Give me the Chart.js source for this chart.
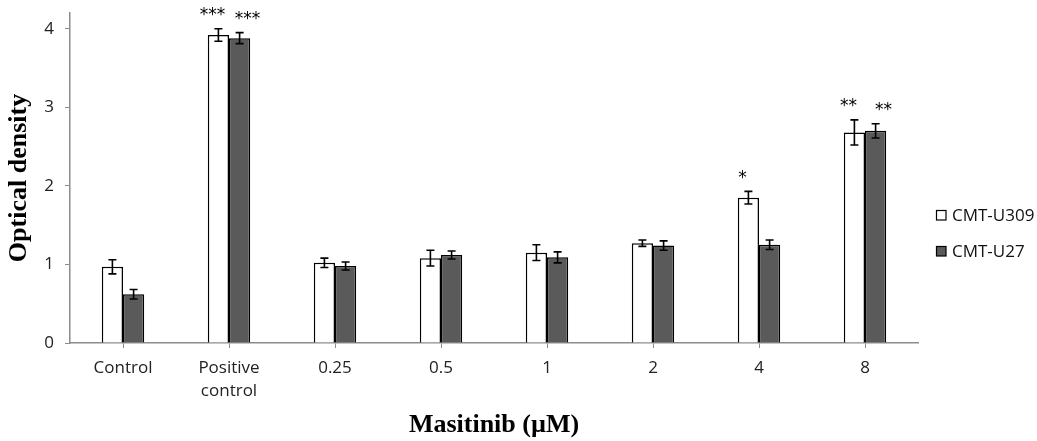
<!DOCTYPE html>
<html>
<head>
<meta charset="utf-8">
<script src="https://cdn.jsdelivr.net/npm/chart.js@4"></script>
<style>
  html, body { margin: 0; padding: 0; background: #fff; }
  #wrap { width: 1037px; height: 441px; }
</style>
</head>
<body>
<div id="wrap"><canvas id="bars"></canvas></div>
<script>
// values
const labels = ['Control', ['Positive', 'control'], '0.25', '0.5', '1', '2', '4', '8'];
const u309 = [0.97, 3.92, 1.02, 1.08, 1.15, 1.27, 1.85, 2.68];
const u309Err = [0.09, 0.08, 0.06, 0.10, 0.10, 0.04, 0.08, 0.16];
const u27 = [0.62, 3.88, 0.98, 1.12, 1.09, 1.24, 1.25, 2.70];
const u27Err = [0.06, 0.07, 0.05, 0.05, 0.07, 0.06, 0.06, 0.09];
const u309Sig = ['', '***', '', '', '', '', '*', '**'];
const u27Sig = ['', '***', '', '', '', '', '', '**'];

const axisGrey = '#8c8c8c';

// error bars + significance stars
const errorBars = {
    id: 'errorBars',
    afterDatasetsDraw(chart) {
        const ctx = chart.ctx;
        const y = chart.scales.y;
        chart.data.datasets.forEach((ds, i) => {
            const meta = chart.getDatasetMeta(i);
            meta.data.forEach((bar, j) => {
                const v = ds.data[j];
                const e = ds.err[j];
                const top = y.getPixelForValue(v + e);
                const bot = y.getPixelForValue(v - e);
                ctx.save();
                ctx.strokeStyle = '#000';
                ctx.lineWidth = 1.6;
                ctx.beginPath();
                ctx.moveTo(bar.x, top); ctx.lineTo(bar.x, bot);
                ctx.moveTo(bar.x - 4, top); ctx.lineTo(bar.x + 4, top);
                ctx.moveTo(bar.x - 4, bot); ctx.lineTo(bar.x + 4, bot);
                ctx.stroke();
                if (ds.sig[j]) {
                    ctx.fillStyle = '#000';
                    ctx.font = '17px "DejaVu Sans"';
                    ctx.textAlign = 'center';
                    ctx.textBaseline = 'middle';
                    ctx.fillText(ds.sig[j], bar.x + ds.sigDx, top - 13);
                }
                ctx.restore();
            });
        });
    },
    afterDraw(chart) {
        // legend on the right
        const ctx = chart.ctx;
        ctx.save();
        ctx.font = '17px "Open Sans"';
        ctx.textBaseline = 'middle';
        chart.data.datasets.forEach((ds, i) => {
            const cy = 215 + i * 36;
            ctx.fillStyle = ds.backgroundColor;
            ctx.fillRect(936, cy - 5, 10, 10);
            ctx.strokeStyle = '#000';
            ctx.lineWidth = 1.2;
            ctx.strokeRect(936.5, cy - 4.5, 9.5, 9.5);
            ctx.fillStyle = '#111';
            ctx.fillText(ds.label, 952, cy + 1);
        });
        ctx.restore();
    }
};

const ctx1 = document.getElementById('bars').getContext('2d');
const BarChart = new Chart(ctx1, {
    type: 'bar',
    data: {
        labels: labels,
        datasets: [
            {
                label: 'CMT-U309',
                data: u309,
                err: u309Err,
                sig: u309Sig,
                sigDx: -6,
                backgroundColor: '#ffffff',
                borderColor: '#000',
                borderWidth: 1.5,
                barPercentage: 1,
                categoryPercentage: 0.4
            },
            {
                label: 'CMT-U27',
                data: u27,
                err: u27Err,
                sig: u27Sig,
                sigDx: 8,
                backgroundColor: '#5a5a5a',
                borderColor: '#000',
                borderWidth: 1.5,
                barPercentage: 1,
                categoryPercentage: 0.4
            }
        ]
    },
    options: {
        responsive: true,
        maintainAspectRatio: false,
        animation: false,
        layout: { padding: { top: 13, right: 119, left: 0, bottom: 0 } },
        plugins: {
            legend: { display: false },
            tooltip: { enabled: false }
        },
        scales: {
            x: {
                afterFit: (s) => { s.height = 98; },
                grid: { offset: false, drawOnChartArea: false, tickLength: 5, color: axisGrey },
                border: { color: axisGrey, width: 1.5 },
                ticks: {
                    color: '#222',
                    padding: 9,
                    maxRotation: 0,
                    font: { family: '"Open Sans"', size: 17, lineHeight: 1.35 }
                },
                title: {
                    display: true,
                    text: 'Masitinib (µM)',
                    color: '#000',
                    padding: { top: 0, bottom: 0 },
                    font: { family: '"Liberation Serif"', size: 26, weight: 'bold' }
                }
            },
            y: {
                min: 0,
                max: 4.2,
                afterFit: (s) => { s.width = 70; s.paddingTop = 0; s.paddingBottom = 0; },
                afterBuildTicks: (s) => { s.ticks = [0, 1, 2, 3, 4].map(v => ({ value: v })); },
                grid: { drawOnChartArea: false, tickLength: 5, color: axisGrey },
                border: { color: axisGrey, width: 1.5 },
                ticks: {
                    color: '#222',
                    padding: 11,
                    font: { family: '"Open Sans"', size: 17 }
                },
                title: {
                    display: true,
                    text: 'Optical density',
                    color: '#000',
                    padding: { top: 4, bottom: 0 },
                    font: { family: '"Liberation Serif"', size: 26, weight: 'bold' }
                }
            }
        }
    },
    plugins: [errorBars]
});
</script>
</body>
</html>
